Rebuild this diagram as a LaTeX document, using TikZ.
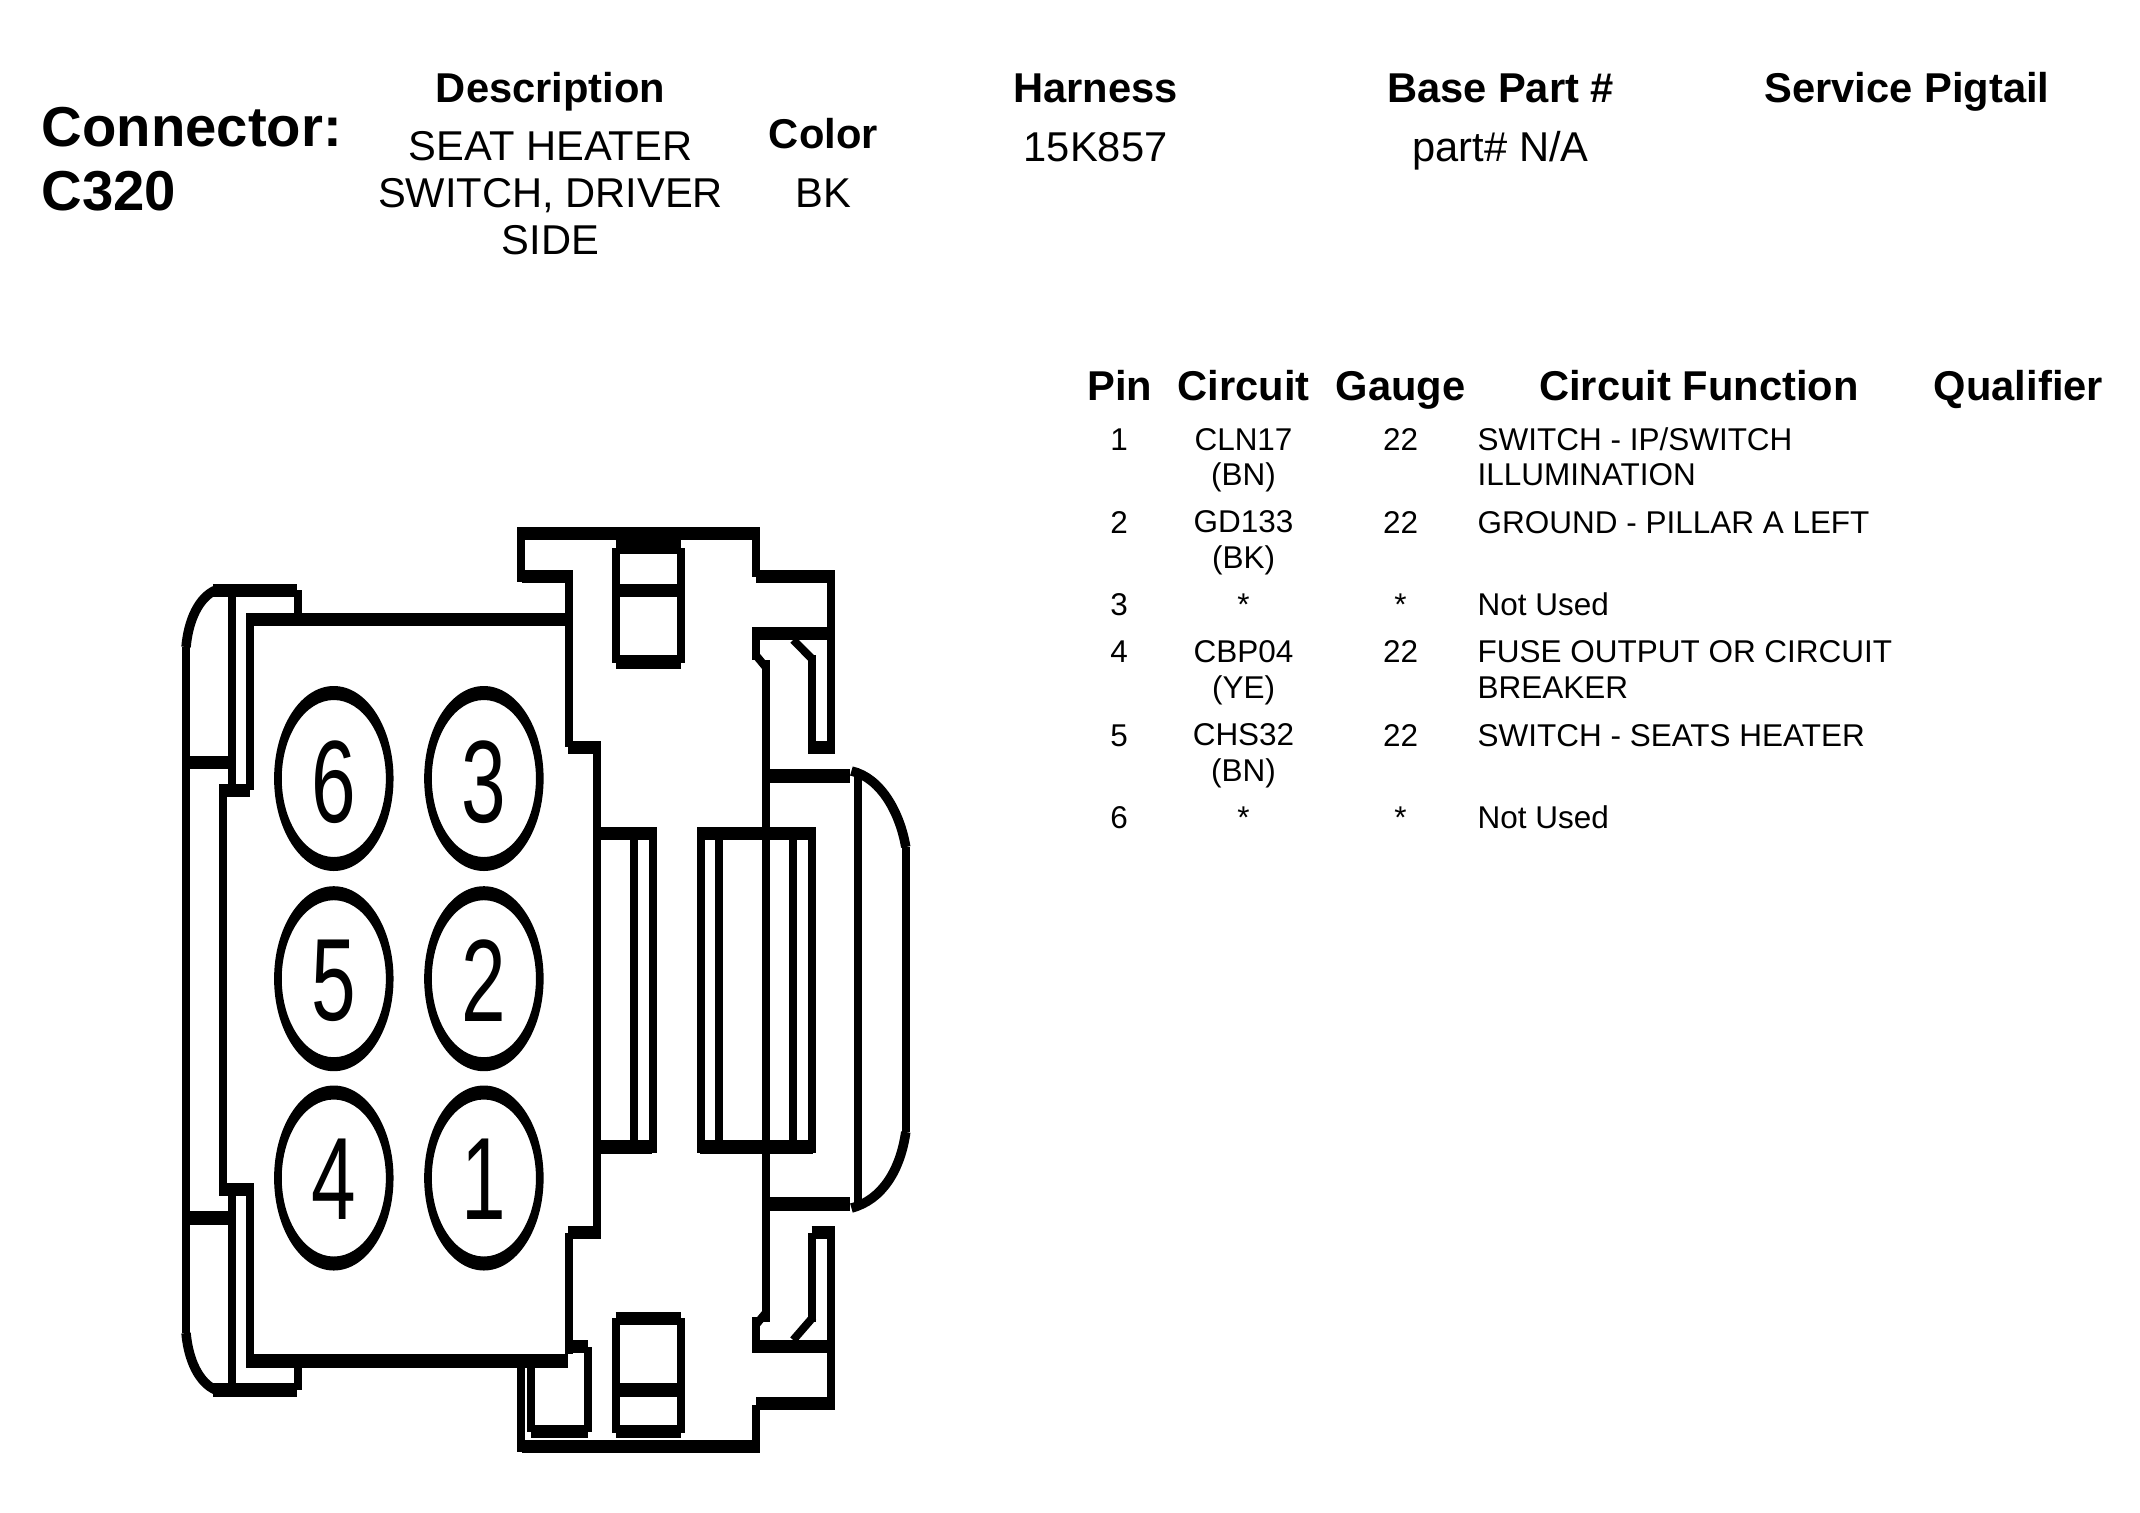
\documentclass[tikz,border=0pt]{standalone}
\usepackage{graphicx}
\usepackage{fontspec}
\setmainfont{Liberation Sans}
\newcommand\hseg[3]{\draw[hl] (#1,#3) -- (#2,#3);}
\newcommand\vseg[3]{\draw[vl] (#1,#2) -- (#1,#3);}
\newcommand\pinring[2]{\fill[even odd rule] (#1,#2) ellipse [x radius=39,y radius=92.5] (#1,#2) ellipse [x radius=34,y radius=78.5];}
\tikzset{
  hl/.style={line width=3.84pt,line cap=butt},
  vl/.style={line width=2.28pt,line cap=butt},
  cv/.style={line width=2.7pt,line cap=butt},
  big/.style={inner sep=0pt,anchor=base west,font=\fontsize{16pt}{17.93pt}\selectfont\bfseries,align=left},
  head/.style={inner sep=0pt,anchor=base,font=\fontsize{11.85pt}{13.23pt}\selectfont\bfseries},
  val/.style={inner sep=0pt,anchor=base,font=\fontsize{11.85pt}{13.23pt}\selectfont,align=center},
  cell/.style={inner sep=0pt,anchor=base,font=\fontsize{8.95pt}{10.04pt}\selectfont,align=center},
  cellf/.style={inner sep=0pt,anchor=base west,font=\fontsize{8.95pt}{10.04pt}\selectfont,align=left},
  digit/.style={inner sep=0pt,anchor=center,font=\fontsize{22.8pt}{24pt}\selectfont}
}
\begin{document}
\begin{tikzpicture}[x=0.01cm,y=-0.01cm]
\path[use as bounding box,fill=white] (0,0) rectangle (2140,1512);
% header (multi-line nodes are placed by their last baseline)
\node[big] (conn) at (41,210) {Connector:\\C320};
\node[head] (hdesc) at (550.6,102) {Description};
\node[val] (vdesc) at (550.6,254) {SEAT HEATER\\SWITCH, DRIVER\\SIDE};
\node[head] (hcol) at (823.3,148) {Color};
\node[val] (vcol) at (823.3,207.7) {BK};
\node[head] (hhar) at (1095.6,102) {Harness};
\node[val] (vhar) at (1095.6,161.5) {15K857};
\node[head] (hbase) at (1500.5,102) {Base Part \#};
\node[val] (vbase) at (1500.5,161.5) {part\# N/A};
\node[head] (hpig) at (1907,102) {Service Pigtail};
% table header
\node[head] (tpin) at (1120,400) {Pin};
\node[head] (tcir) at (1243.5,400) {Circuit};
\node[head] (tgau) at (1400.5,400) {Gauge};
\node[head] (tfun) at (1699,400) {Circuit Function};
\node[head] (tqua) at (2018.4,400) {Qualifier};
% table rows
\node[cell] (p1) at (1119,450.2) {1};
\node[cell] (c1) at (1243.5,485.5) {CLN17\\(BN)};
\node[cell] (g1) at (1400.5,450.2) {22};
\node[cellf] (f1) at (1477,485.5) {SWITCH - IP/SWITCH\\ILLUMINATION};
\node[cell] (p2) at (1119,533.2) {2};
\node[cell] (c2) at (1243.5,568.2) {GD133\\(BK)};
\node[cell] (g2) at (1400.5,533.2) {22};
\node[cellf] (f2) at (1477,533.2) {GROUND - PILLAR A LEFT};
\node[cell] (p3) at (1119,615.2) {3};
\node[cell] (c3) at (1243.5,615.2) {*};
\node[cell] (g3) at (1400.5,615.2) {*};
\node[cellf] (f3) at (1477,615.2) {Not Used};
\node[cell] (p4) at (1119,662.9) {4};
\node[cell] (c4) at (1243.5,698.2) {CBP04\\(YE)};
\node[cell] (g4) at (1400.5,662.9) {22};
\node[cellf] (f4) at (1477,698.2) {FUSE OUTPUT OR CIRCUIT\\BREAKER};
\node[cell] (p5) at (1119,746.2) {5};
\node[cell] (c5) at (1243.5,781.2) {CHS32\\(BN)};
\node[cell] (g5) at (1400.5,746.2) {22};
\node[cellf] (f5) at (1477,746.2) {SWITCH - SEATS HEATER};
\node[cell] (p6) at (1119,828.2) {6};
\node[cell] (c6) at (1243.5,828.2) {*};
\node[cell] (g6) at (1400.5,828.2) {*};
\node[cellf] (f6) at (1477,828.2) {Not Used};
% connector drawing: x stretched about the zoom origin
\begin{scope}[x=0.015306cm,xshift=-0.796cm]
\pinring{270}{778.5}\pinring{368}{778.5}
\pinring{270}{978.7}\pinring{368}{978.7}
\pinring{270}{1178}\pinring{368}{1178}
\node[digit] (d6) at (270,782) {\scalebox{1}[1.46]{6}};
\node[digit] (d3) at (368,782) {\scalebox{1}[1.46]{3}};
\node[digit] (d5) at (270,981) {\scalebox{1}[1.46]{5}};
\node[digit] (d2) at (368,981) {\scalebox{1}[1.46]{2}};
\node[digit] (d4) at (270,1179) {\scalebox{1}[1.46]{4}};
\node[digit] (d1) at (368,1179) {\scalebox{1}[1.46]{1}};
% top body
\hseg{393}{546}{533.5}\vseg{392.5}{527}{582}\hseg{393}{423}{576.5}
\vseg{423.5}{570}{747}\hseg{423}{442}{747.5}\vseg{442}{741}{1239}
% main box
\hseg{216}{421}{619.5}\vseg{215.5}{613}{790}\hseg{197}{215}{790.5}
\vseg{197.5}{784}{1196}\hseg{197}{215}{1189.5}\vseg{215.5}{1183}{1368}
\hseg{216}{423}{1361}
% left latch
\hseg{191}{246}{590.5}\vseg{246.5}{590}{615}
\hseg{191}{246}{1390}\vseg{246.5}{1361}{1390}
\vseg{203.5}{590}{790}\vseg{203.5}{1190}{1390}
\vseg{173.5}{647}{1333}
\hseg{175}{201}{762.5}\hseg{175}{201}{1218}
\draw[cv] (173.5,647) .. controls (175,620) and (182,597) .. (193,590);
\draw[cv] (173.5,1333) .. controls (175,1360) and (182,1383) .. (193,1390);
% right top
\vseg{546}{527}{577}\hseg{546}{595}{576.5}\vseg{594.5}{570}{754}
\hseg{546}{595}{633.5}\vseg{545.5}{627}{660}
\draw[vl] (545.5,655) -- (552,667);
\vseg{552}{660}{1322}
\draw[vl] (570,640) -- (583,660);
\vseg{582}{655}{754}\hseg{582}{595}{747.5}
% handle
\hseg{554}{607}{776}\vseg{612.5}{776}{1205}
\draw[cv] (608,771) .. controls (628,778) and (640,815) .. (643.5,847);
\vseg{643.5}{847}{1132}
\draw[cv] (643.5,1132) .. controls (640,1170) and (628,1200) .. (608,1208);
\hseg{554}{607}{1204}
% middle rectangles
\hseg{443}{478}{833.5}\hseg{443}{478}{1147}
\vseg{466}{833}{1147}\vseg{478.5}{827}{1153}
\hseg{509}{583}{833.5}\hseg{509}{583}{1147}
\vseg{509.5}{827}{1153}\vseg{521.5}{833}{1147}\vseg{570}{833}{1147}\vseg{582}{827}{1153}
% top socket
\hseg{454}{497}{547}\vseg{454}{548}{663}\vseg{496.5}{548}{663}
\hseg{454}{497}{590.5}\hseg{454}{497}{662}
% bottom socket
\hseg{454}{497}{1318.5}\vseg{454}{1318}{1433}\vseg{496.5}{1318}{1433}
\hseg{454}{497}{1390}\hseg{454}{497}{1431.5}
% bottom-left tab
\hseg{399}{436}{1431.5}\vseg{398.5}{1368}{1432}\vseg{436}{1347}{1432}
\hseg{423}{436}{1346.5}\vseg{423.5}{1233}{1354}\hseg{423}{442}{1232.5}
% bottom body
\vseg{392.5}{1368}{1452}\hseg{393}{546}{1446.5}
\vseg{546}{1405}{1453}\hseg{546}{595}{1403.5}\vseg{594.5}{1226}{1410}
\hseg{546}{595}{1346.5}\vseg{545.5}{1317}{1353}
\draw[vl] (545.5,1325) -- (552,1313);
\draw[vl] (570,1340) -- (583,1317);
\vseg{582}{1233}{1322}\hseg{582}{595}{1232.5}
\end{scope}
\end{tikzpicture}
\end{document}
